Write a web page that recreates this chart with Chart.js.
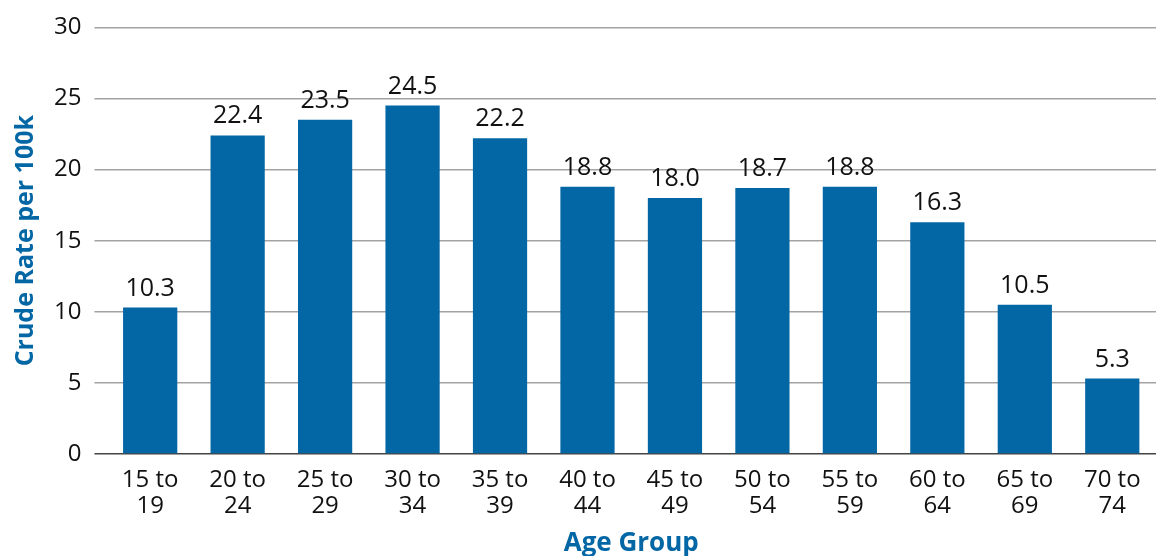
<!DOCTYPE html>
<html>
<head>
<meta charset="utf-8">
<script src="https://cdn.jsdelivr.net/npm/chart.js@4"></script>
<style>
  html, body { margin: 0; padding: 0; background: #fff; }
  #wrap { width: 1156px; height: 556px; }
</style>
</head>
<body>
<div id="wrap"><canvas id="rateChart" width="1156" height="556"></canvas></div>
<script>
// age groups, two lines each like the original
const ageGroups = [
  ["15 to", "19"], ["20 to", "24"], ["25 to", "29"], ["30 to", "34"],
  ["35 to", "39"], ["40 to", "44"], ["45 to", "49"], ["50 to", "54"],
  ["55 to", "59"], ["60 to", "64"], ["65 to", "69"], ["70 to", "74"]
];
const crudeRates = [10.3, 22.4, 23.5, 24.5, 22.2, 18.8, 18.0, 18.7, 18.8, 16.3, 10.5, 5.3];
const yTicks = [0, 5, 10, 15, 20, 25, 30];

const BLUE = "#0467a5";
const FONT = "'Open Sans', 'DejaVu Sans', sans-serif";

// no datalabels plugin here, so draw the values ourselves
const valueLabels = {
  id: "valueLabels",
  afterDatasetsDraw(chart) {
    const { ctx } = chart;
    const meta = chart.getDatasetMeta(0);
    ctx.save();
    ctx.font = `25px ${FONT}`;
    ctx.fillStyle = "#111";
    ctx.textAlign = "center";
    ctx.textBaseline = "alphabetic";
    meta.data.forEach((bar, i) => {
      const { x, y } = bar.getProps(["x", "y"], true);
      ctx.fillText(crudeRates[i].toFixed(1), x, y - 12);
    });
    ctx.restore();
  }
};

const ctx = document.getElementById("rateChart").getContext("2d");
new Chart(ctx, {
  type: "bar",
  data: {
    labels: ageGroups,
    datasets: [{
      data: crudeRates,
      backgroundColor: BLUE,
      barPercentage: 0.62,
      categoryPercentage: 1
    }]
  },
  options: {
    responsive: false,
    animation: false,
    layout: { padding: { top: 13, right: 0, left: 11, bottom: 0 } },
    plugins: {
      legend: { display: false },
      tooltip: { enabled: false }
    },
    scales: {
      x: {
        grid: { display: false },
        border: { display: false },
        ticks: {
          font: { family: FONT, size: 24, lineHeight: 1.08 },
          color: "#111",
          maxRotation: 0,
          autoSkip: false,
          padding: 5
        },
        title: {
          display: true,
          text: "Age Group",
          color: BLUE,
          font: { family: FONT, size: 26, weight: "bold" },
          padding: { top: 4, bottom: -3 }
        }
      },
      y: {
        min: 0,
        max: 30,
        afterBuildTicks(axis) {
          axis.ticks = yTicks.map(v => ({ value: v }));
        },
        border: { display: false },
        grid: {
          color: (c) => (c.tick && c.tick.value === 0 ? "#444" : "#a3a3a3"),
          lineWidth: 1.5,
          tickLength: 12
        },
        ticks: {
          font: { family: FONT, size: 24 },
          color: "#111",
          padding: 13
        },
        title: {
          display: true,
          text: "Crude Rate per 100k",
          color: BLUE,
          font: { family: FONT, size: 25, weight: "bold" },
          padding: { top: 0, bottom: 0 }
        }
      }
    }
  },
  plugins: [valueLabels]
});
</script>
</body>
</html>
